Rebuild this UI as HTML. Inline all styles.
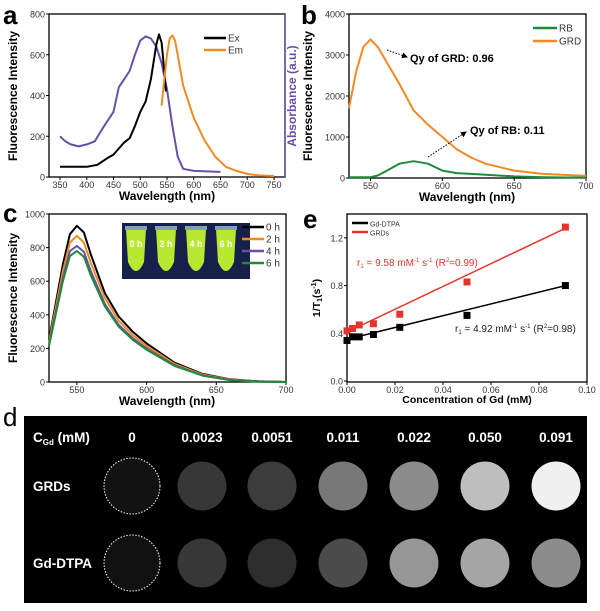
<!DOCTYPE html>
<html><head><meta charset="utf-8"><style>
html,body{margin:0;padding:0;background:#fff}
svg{display:block;font-family:"Liberation Sans",Arial,sans-serif}
</style></head><body>
<svg id="fig" width="600" height="611" viewBox="0 0 600 611"></svg>
<script>
// ---- Panel a data
const aWl_ex=[350,400,420,440,450,460,470,480,490,500,510,520,530,535,540,545,548];
const aEx=[50,50,60,95,110,140,170,190,250,320,370,480,650,700,660,520,420];
const aWl_abs=[350,360,370,385,400,415,430,450,460,470,480,490,500,510,520,530,540,550,560,570,580,600,650];
const aAbs=[200,175,160,150,160,175,240,320,440,480,520,600,670,690,680,640,560,430,250,100,40,30,25];
const aWl_em=[540,545,550,555,560,565,570,580,590,600,620,640,660,680,700,720,750];
const aEm=[350,480,600,680,695,670,600,450,370,290,180,100,50,30,15,8,5];
const aXTicks=[350,400,450,500,550,600,650,700,750];
const aYTicks=[0,200,400,600,800];
// ---- Panel b data
const bWl=[535,540,545,550,555,560,570,580,590,600,610,620,630,650,670,700];
const bGRD=[1700,2600,3200,3380,3200,2900,2300,1650,1300,1000,700,500,350,180,100,50];
const bRB=[20,20,20,20,60,150,350,410,350,180,120,100,80,40,20,10];
const bXTicks=[550,600,650,700];
const bYTicks=[0,1000,2000,3000,4000];
// ---- Panel c data
const cWl=[530,540,545,550,555,560,570,580,590,600,620,640,660,680,700];
const c0h=[250,700,880,930,890,760,530,390,300,230,115,48,16,4,0];
const c2h=[235,660,830,870,830,710,500,365,280,215,108,44,14,3,0];
const c4h=[220,620,780,810,775,660,465,340,262,200,100,40,12,3,0];
const c6h=[215,600,750,780,745,635,450,330,252,192,96,38,11,2,0];
const cXTicks=[550,600,650,700];
const cYTicks=[0,200,400,600,800,1000];
// ---- Panel e data
const eConc=[0,0.0023,0.0051,0.011,0.022,0.050,0.091];
const eDTPA=[0.34,0.37,0.37,0.39,0.45,0.55,0.80];
const eGRD=[0.42,0.44,0.47,0.48,0.56,0.83,1.29];
const eFitDTPA=[0.35,0.80];
const eFitGRD=[0.41,1.28];
const eXTicks=[0,0.02,0.04,0.06,0.08,0.10];
const eYTicks=[0,0.4,0.8,1.2];
// ---- Panel d data
const dConc=["0","0.0023","0.0051","0.011","0.022","0.050","0.091"];
const dGRDs=[18,55,60,120,140,190,240];
const dDTPA=[16,55,45,75,150,165,140];

const NS="http://www.w3.org/2000/svg";
const svg=document.getElementById('fig');
function mk(tag,attrs,parent,text){const e=document.createElementNS(NS,tag);for(const k in attrs)e.setAttribute(k,attrs[k]);if(text!==undefined)e.textContent=text;(parent||svg).appendChild(e);return e;}
function scale(d0,d1,r0,r1){return v=>r0+(v-d0)/(d1-d0)*(r1-r0);}
function path(xs,ys,sx,sy){return xs.map((x,i)=>(i?'L':'M')+sx(x).toFixed(1)+','+sy(ys[i]).toFixed(1)).join('');}

function frame(g,x0,y0,x1,y1,sx,sy,xt,yt,xfmt,yfmt){
  const box=mk('rect',{x:x0,y:y0,width:x1-x0,height:y1-y0,fill:'none',stroke:'#000','stroke-width':1.3},g);
  
  xt.forEach(v=>{const x=sx(v);mk('line',{x1:x,y1:y1,x2:x,y2:y1+3,stroke:'#000'},g);
    const t=mk('text',{x:x,y:y1+11,'font-size':9,'text-anchor':'middle',fill:'#333'},g,xfmt(v));
    });
  yt.forEach(v=>{const y=sy(v);mk('line',{x1:x0-3,y1:y,x2:x0,y2:y,stroke:'#000'},g);
    const t=mk('text',{x:x0-4,y:y+3.5,'font-size':9,'text-anchor':'end',fill:'#333'},g,yfmt(v));
    });
}
function label(g,txt,x,y,size,rot,color,name){const a={x:x,y:y,'font-size':size,'font-weight':'bold','text-anchor':'middle',fill:color||'#000'};if(rot)a.transform='rotate(-90 '+x+' '+y+')';const t=mk('text',a,g,txt);return t;}
function line(g,d,c,w,name){const p=mk('path',{d:d,fill:'none',stroke:c,'stroke-width':w||2,'stroke-linejoin':'round'},g);}
function legend(g,x,y,c,txt,fs,len){mk('line',{x1:x,y1:y,x2:x+(len||22),y2:y,stroke:c,'stroke-width':2.5},g);const t=mk('text',{x:x+(len||22)+2,y:y+3.5,'font-size':fs||10,fill:'#333'},g,txt);}

// ===== Panel a
{const g=mk('g',{});
const sx=scale(350,750,60,274), sy=scale(0,800,177,14);
mk('text',{x:3,y:24,'font-size':26,'font-weight':'bold'},g,'a');
frame(g,49,14,285,177,sx,sy,aXTicks,aYTicks,v=>v,v=>v);
mk('line',{x1:285,y1:14,x2:285,y2:177,stroke:'#6a4fa8','stroke-width':1.5},g);
line(g,path(aWl_abs,aAbs,sx,sy),'#6a4fa8',2,'absorbance-line');
line(g,path(aWl_ex,aEx,sx,sy),'#000',2,'ex-line');
line(g,path(aWl_em,aEm,sx,sy),'#f08a24',2,'em-line');
legend(g,204,38,'#000','Ex');legend(g,204,50,'#f08a24','Em');
label(g,'Wavelength (nm)',167,200,12,false,null,'x-axis-title');
label(g,'Fluorescence Intensity',17,96,12,true,null,'y-axis-title');
label(g,'Absorbance (a.u.)',296,96,12,true,'#6a4fa8','y2-axis-title');}

// ===== Panel b
{const g=mk('g',{});
const sx=scale(535,700,349,586), sy=scale(0,4000,178,14);
mk('text',{x:301,y:24,'font-size':26,'font-weight':'bold'},g,'b');
frame(g,349,14,586,178,sx,sy,bXTicks,bYTicks,v=>v,v=>v);
line(g,path(bWl,bGRD,sx,sy),'#f08a24',2,'grd-line');
line(g,path(bWl,bRB,sx,sy),'#1f8a3c',2,'rb-line');
legend(g,533,28,'#1f8a3c','RB',10,24);legend(g,533,41,'#f08a24','GRD',10,24);
mk('defs',{},g).innerHTML='<marker id="ah" markerWidth="6" markerHeight="6" refX="5" refY="3" orient="auto"><path d="M0,0L6,3L0,6z" fill="#000"/></marker>';
mk('line',{x1:387,y1:50,x2:407,y2:57,stroke:'#000','stroke-dasharray':'1.5,1.5','marker-end':'url(#ah)'},g);
mk('line',{x1:428,y1:157,x2:466,y2:132,stroke:'#000','stroke-dasharray':'1.5,1.5','marker-end':'url(#ah)'},g);
mk('text',{x:410,y:62,'font-size':11,'font-weight':'bold'},g,'Qy of GRD: 0.96');
mk('text',{x:470,y:134,'font-size':11,'font-weight':'bold'},g,'Qy of RB: 0.11');
label(g,'Wavelength (nm)',467,201,12,false,null,'x-axis-title');
label(g,'Fluorescence Intensity',312,96,12,true,null,'y-axis-title');}

// ===== Panel c
{const g=mk('g',{});
const sx=scale(530,700,49,286), sy=scale(0,1000,382,214);
mk('text',{x:3,y:222,'font-size':26,'font-weight':'bold'},g,'c');
frame(g,49,214,286,382,sx,sy,cXTicks,cYTicks,v=>v,v=>v);
line(g,path(cWl,c0h,sx,sy),'#000',2,'series-0h');
line(g,path(cWl,c2h,sx,sy),'#f08a24',2,'series-2h');
line(g,path(cWl,c4h,sx,sy),'#6a4fa8',2,'series-4h');
line(g,path(cWl,c6h,sx,sy),'#1f8a3c',2,'series-6h');
const ins=mk('g',{},g);
mk('rect',{x:122,y:223,width:128,height:56,fill:'#16204a'},ins);
['0 h','2 h','4 h','6 h'].forEach((t,i)=>{const cx=136+i*30;
 mk('path',{d:`M${cx-10},229 L${cx+10},229 L${cx+8},262 Q${cx},280 ${cx-8},262 Z`,fill:'#b8e830'},ins);
 mk('rect',{x:cx-11,y:226,width:22,height:4,fill:'#7fa0c0'},ins);
 mk('text',{x:cx,y:247,'font-size':9,'font-weight':'bold',fill:'#fff','text-anchor':'middle'},ins,t);});
legend(g,242,227,'#000','0 h',10,22);legend(g,242,239,'#f08a24','2 h',10,22);legend(g,242,251,'#6a4fa8','4 h',10,22);legend(g,242,263,'#1f8a3c','6 h',10,22);
label(g,'Wavelength (nm)',167,405,12,false,null,'x-axis-title');
label(g,'Fluorescence Intensity',17,298,12,true,null,'y-axis-title');}

// ===== Panel e
{const g=mk('g',{});
const sx=scale(0,0.10,347,587), sy=scale(0,1.4,381,214);
mk('text',{x:303,y:228,'font-size':26,'font-weight':'bold'},g,'e');
frame(g,347,214,587,382,sx,sy,eXTicks,eYTicks,v=>v.toFixed(2),v=>v.toFixed(1));
line(g,path([0,eConc[6]],eFitGRD,sx,sy),'#e8322c',1.5,'grds-fit-line');
line(g,path([0,eConc[6]],eFitDTPA,sx,sy),'#000',1.5,'gd-dtpa-fit-line');
eConc.forEach((c,i)=>{const r=mk('rect',{x:sx(c)-3.5,y:sy(eGRD[i])-3.5,width:7,height:7,fill:'#e8322c'},g);
 const b=mk('rect',{x:sx(c)-3.5,y:sy(eDTPA[i])-3.5,width:7,height:7,fill:'#000'},g);});
legend(g,352,223,'#000','Gd-DTPA',7,16);legend(g,352,232,'#e8322c','GRDs',7,16);
mk('text',{x:357,y:266,'font-size':10,fill:'#e8322c'},g).innerHTML='r<tspan font-size="6" dy="2">1</tspan><tspan dy="-2"> = 9.58 mM</tspan><tspan font-size="6" dy="-4">-1</tspan><tspan dy="4"> s</tspan><tspan font-size="6" dy="-4">-1</tspan><tspan dy="4"> (R</tspan><tspan font-size="6" dy="-4">2</tspan><tspan dy="4">=0.99)</tspan>';
mk('text',{x:455,y:332,'font-size':10,fill:'#222'},g).innerHTML='r<tspan font-size="6" dy="2">1</tspan><tspan dy="-2"> = 4.92 mM</tspan><tspan font-size="6" dy="-4">-1</tspan><tspan dy="4"> s</tspan><tspan font-size="6" dy="-4">-1</tspan><tspan dy="4"> (R</tspan><tspan font-size="6" dy="-4">2</tspan><tspan dy="4">=0.98)</tspan>';
label(g,'Concentration of Gd (mM)',467,403,10.5,false,null,'x-axis-title');
const yt=mk('text',{x:320,y:298,'font-size':10.5,'font-weight':'bold','text-anchor':'middle',transform:'rotate(-90 320 298)'},g);
yt.innerHTML='1/T<tspan font-size="7" dy="2">1</tspan><tspan dy="-2">(s</tspan><tspan font-size="7" dy="-4">-1</tspan><tspan dy="4">)</tspan>';
}

// ===== Panel d
{const g=mk('g',{});
mk('text',{x:3,y:426,'font-size':26},g,'d');
mk('rect',{x:24,y:416,width:563,height:187,fill:'#000'},g);
const colX=[132,202,272,343,414,485,556];
const hdr=mk('text',{x:33,y:442,'font-size':13.5,'font-weight':'bold',fill:'#fff'},g);
hdr.innerHTML='C<tspan font-size="8" dy="3">Gd</tspan><tspan dy="-3"> (mM)</tspan>';
dConc.forEach((c,i)=>{const t=mk('text',{x:colX[i],y:442,'font-size':13.5,'font-weight':'bold',fill:'#fff','text-anchor':'middle'},g,c);});
mk('text',{x:33,y:491,'font-size':13.5,'font-weight':'bold',fill:'#fff'},g,'GRDs');
mk('text',{x:33,y:568,'font-size':13.5,'font-weight':'bold',fill:'#fff'},g,'Gd-DTPA');
[[dGRDs,486,'grds-mri-spot'],[dDTPA,563,'gd-dtpa-mri-spot']].forEach(([arr,cy,nm])=>{
 arr.forEach((v,i)=>{const r=i===0?28:24.5;const e=mk('ellipse',{cx:colX[i],cy:cy,rx:r,ry:r,fill:`rgb(${v},${v},${v})`},g);
  if(i===0)mk('ellipse',{cx:colX[i],cy:cy,rx:28,ry:28,fill:'none',stroke:'#fff','stroke-width':1,'stroke-dasharray':'1.5,1.5'},g);});});}
</script>
</body></html>
